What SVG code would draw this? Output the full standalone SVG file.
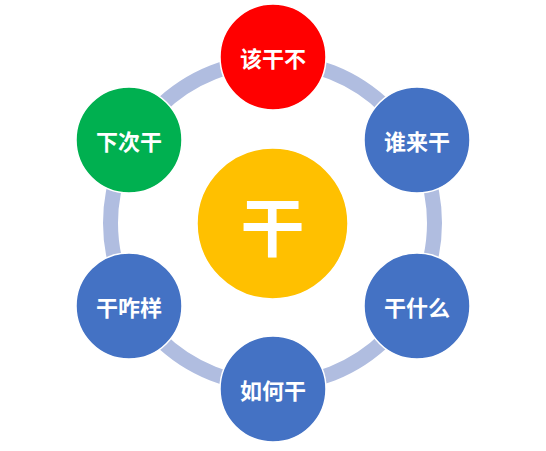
<svg xmlns="http://www.w3.org/2000/svg" width="546" height="451" viewBox="0 0 546 451">
<style>
.ring{fill:none;stroke:#B0BDE0;stroke-width:15}
.node{stroke:#FFFFFF;stroke-width:1.5}
.lbl{font-family:"Noto Sans CJK SC","Noto Sans",sans-serif;font-weight:bold;fill:#FFFFFF;text-anchor:middle;dominant-baseline:central}
.s{font-size:22px}
.c{font-size:64px}
</style>
<rect width="546" height="451" fill="#FFFFFF"/>
<g id="connectors">
<circle class="ring" cx="272.5" cy="223" r="162"/>
</g>
<g id="center">
<circle class="node" cx="272.5" cy="223.5" r="75.5" fill="#FFC000"/>
<text class="lbl c" x="272.5" y="223">干</text>
</g>
<g id="n1">
<circle class="node" cx="273" cy="57" r="53" fill="#FF0000"/>
<text class="lbl s" x="273" y="57">该干不</text>
</g>
<g id="n2">
<circle class="node" cx="417" cy="140" r="53" fill="#4472C4"/>
<text class="lbl s" x="417" y="140">谁来干</text>
</g>
<g id="n3">
<circle class="node" cx="417" cy="306" r="53" fill="#4472C4"/>
<text class="lbl s" x="417" y="306">干什么</text>
</g>
<g id="n4">
<circle class="node" cx="273" cy="389" r="53" fill="#4472C4"/>
<text class="lbl s" x="273" y="389">如何干</text>
</g>
<g id="n5">
<circle class="node" cx="129" cy="306" r="53" fill="#4472C4"/>
<text class="lbl s" x="129" y="306">干咋样</text>
</g>
<g id="n6">
<circle class="node" cx="129" cy="140" r="53" fill="#00B050"/>
<text class="lbl s" x="129" y="140">下次干</text>
</g>
</svg>
